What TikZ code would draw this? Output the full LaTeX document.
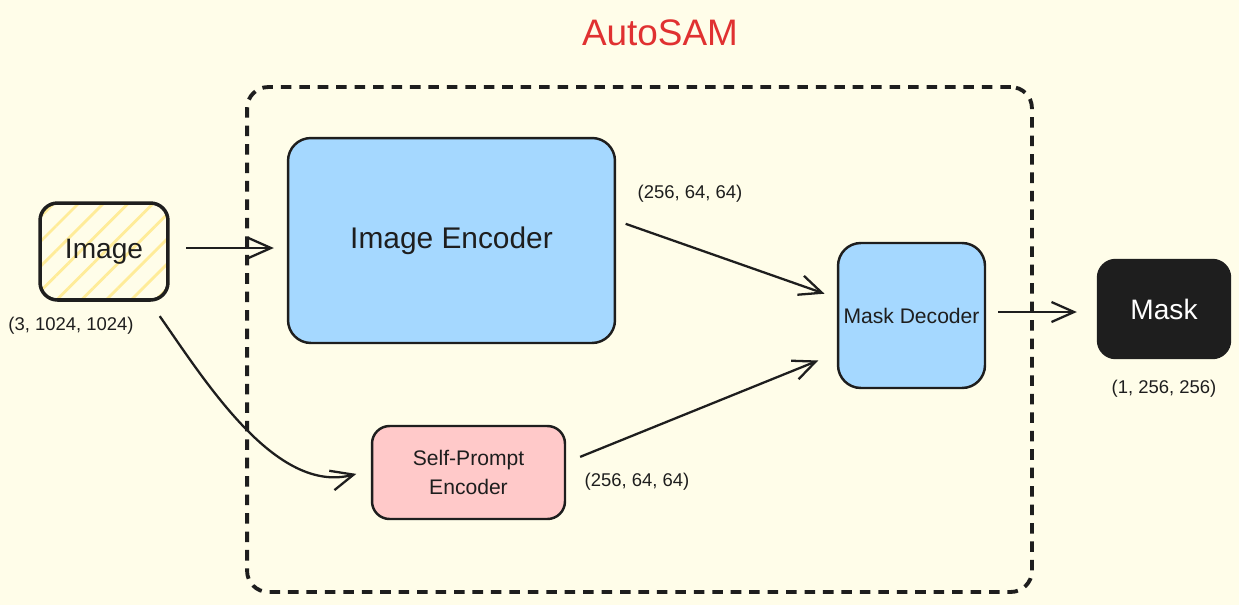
\documentclass[tikz,border=0pt]{standalone}
\usepackage{fontspec}
\setmainfont{Liberation Sans}
\usepackage{tikz}
\usetikzlibrary{positioning, arrows.meta, patterns.meta}
\definecolor{paper}{HTML}{FFFDE9}
\definecolor{ink}{HTML}{1E1E1E}
\definecolor{encblue}{HTML}{A5D8FF}
\definecolor{promptpink}{HTML}{FFC9C9}
\definecolor{hatch}{HTML}{FFEC99}
\definecolor{titlered}{HTML}{E03131}
\tikzset{
  box/.style    = {rectangle, rounded corners=10pt, draw=ink, line width=1.4pt,
                   align=center, inner sep=2pt, text=ink},
  inp/.style    = {box, line width=2pt, pattern={Lines[angle=45, distance=10pt, line width=1.6pt]},
                   pattern color=hatch, minimum width=2.56cm, minimum height=1.94cm,
                   font=\fontsize{16}{19}\selectfont},
  enc/.style    = {box, fill=encblue},
  prompt/.style = {box, fill=promptpink, minimum width=3.86cm, minimum height=1.86cm,
                   font=\fontsize{12}{16}\selectfont},
  outbox/.style = {box, fill=ink, text=white, minimum width=2.64cm, minimum height=1.96cm,
                   font=\fontsize{16}{19}\selectfont},
  frame/.style  = {rectangle, rounded corners=12pt, draw=ink, line width=2.2pt,
                   dash pattern=on 6pt off 4.5pt},
  dims/.style   = {font=\fontsize{10.5}{12}\selectfont, text=ink},
  ttl/.style    = {font=\fontsize{21}{24}\selectfont, text=titlered},
  ar/.style     = {-{Straight Barb[length=4.5mm,width=4mm]}, line width=1.3pt, draw=ink},
}
\begin{document}
\begin{tikzpicture}[x=0.02cm, y=-0.02cm]

  \fill[paper] (0,0) rectangle (1239,605);

  \node[ttl] (title) at (660,33) {AutoSAM};
  \node[frame, minimum width=15.7cm, minimum height=10.1cm] (sam) at (639.5,339.5) {};

  \node[inp] (img) at (104,251.5) {Image};
  \node[dims] (imgdim) at (71,326) {(3, 1024, 1024)};

  \node[enc, rounded corners=13pt, minimum width=6.54cm, minimum height=4.1cm,
        font=\fontsize{17}{20}\selectfont] (imgenc) at (451.5,240.5) {Image Encoder};
  \node[prompt] (spenc) at (468.5,472.5) {Self-Prompt\\Encoder};
  \node[enc, rounded corners=13pt, minimum width=2.94cm, minimum height=2.9cm,
        font=\fontsize{12}{14}\selectfont] (maskdec) at (911.5,315.5) {Mask Decoder};

  \node[outbox] (mask) at (1164,309) {Mask};
  \node[dims, below=0.3cm of mask] (maskdim) {(1, 256, 256)};

  \node[dims] (encdim) at (690,194) {(256, 64, 64)};
  \node[dims] (spdim) at (637,482) {(256, 64, 64)};

  \draw[ar, shorten <=0.34cm, shorten >=0.26cm] ([yshift=0.07cm]img.east) -- ([yshift=0.07cm]img.east -| imgenc.west);
  \draw[ar, shorten <=0.2cm, shorten >=0.26cm] ([yshift=0.4cm]imgenc.east) -- ([yshift=0.35cm]maskdec.west);
  \draw[ar, shorten <=0.3cm, shorten >=0.4cm] ([yshift=0.2cm]spenc.east) -- ([yshift=-0.75cm]maskdec.west);
  \draw[ar, shorten <=0.24cm, shorten >=0.4cm] ([yshift=0.07cm]maskdec.east) -- ([yshift=0.07cm]maskdec.east -| mask.west);
  \draw[ar, shorten <=0.36cm, shorten >=0.3cm] ([xshift=-0.4cm]img.south east)
    to[out=-55, in=195, looseness=0.9] ([yshift=0.05cm]spenc.west);

\end{tikzpicture}
\end{document}
